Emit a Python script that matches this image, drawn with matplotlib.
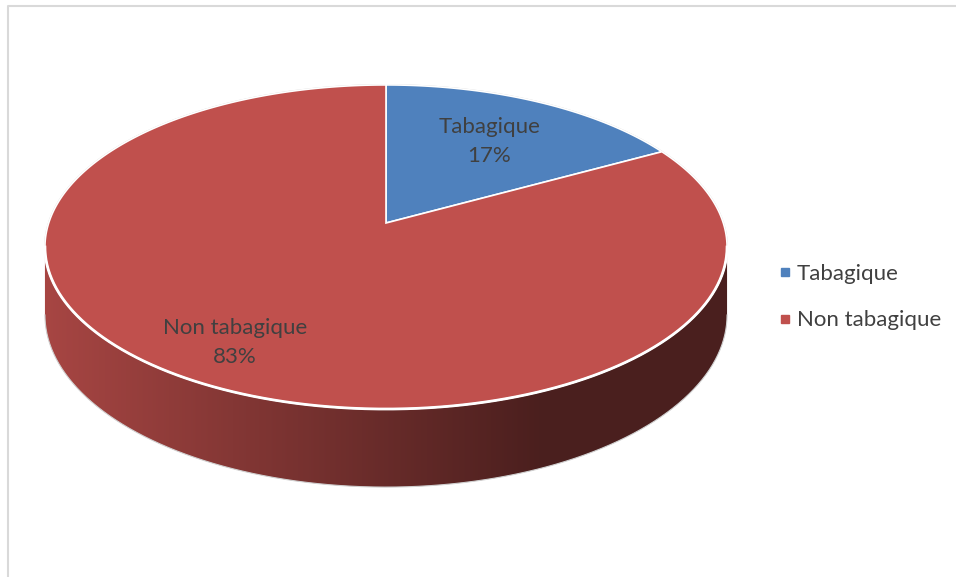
import numpy as np
import matplotlib
matplotlib.use('Agg')
import matplotlib.pyplot as plt
from matplotlib.lines import Line2D
from matplotlib.colors import to_rgb

categories = ['Tabagique', 'Non tabagique']
shares = [17, 83]
slice_colors = ['#4f81bd', '#c0504d']
label_radius = [0.65, 0.79]

# perspective pie geometry (canvas units = pixels)
CX, CY = 386, 223
A, B, K = 337.3, 158.5, 0.148
DEPTH = 66.5
TEXT = '#404040'
FONT = 'Lato'
FSIZE = 16


def project(theta, r=1.0, drop=0.0):
    u = r * np.sin(theta)
    v = -r * np.cos(theta)
    w = 1 - K * v
    return CX + A * u / w, CY + (B * v + drop) / w


def shade(sx):
    half = A / np.sqrt(1 - K ** 2)
    f = 0.87 - 0.48 * ((sx - CX) / half + 1) / 1.45
    return np.clip(f, 0.39, 0.9)


fig = plt.figure(figsize=(9.56, 5.77), dpi=100)
ax = fig.add_axes([0, 0, 1, 1])
ax.axis('off')

# chart frame (left and top edges visible)
ax.plot([8, 8, 956], [577, 6, 6], color='#d9d9d9', lw=1.5, solid_capstyle='butt')

total = sum(shares)
bounds = np.concatenate([[0], np.cumsum(shares) / total * 2 * np.pi])

# visible front wall lies where the rim comes towards the viewer
vis0 = np.arccos(-K)
vis1 = 2 * np.pi - vis0

for i, col in enumerate(slice_colors):
    a, b = max(bounds[i], vis0), min(bounds[i + 1], vis1)
    if a >= b:
        continue
    ts = np.linspace(a, b, 400)
    tx, ty = project(ts)
    bx, by = project(ts, drop=DEPTH)
    wall = plt.Polygon(np.column_stack([np.r_[tx, bx[::-1]], np.r_[ty, by[::-1]]]),
                       closed=True, facecolor='none', edgecolor='none')
    ax.add_patch(wall)
    xs = np.linspace(tx.min() - 2, tx.max() + 2, 700)
    grad = np.array(to_rgb(col))[None, None, :] * shade(xs)[None, :, None]
    img = ax.imshow(grad, extent=(xs[0], xs[-1], by.max() + 2, ty.min() - 2),
                    aspect='auto', interpolation='bilinear', zorder=1)
    img.set_clip_path(wall)
    ax.plot(bx, by, color='#d0d0d0', lw=0.8, zorder=1.5)

# faint outline round the top face
ta = np.linspace(0, 2 * np.pi, 600)
ox, oy = project(ta)
ax.plot(ox, oy, color='#cfcfcf', lw=1.2, zorder=2)

for i, col in enumerate(slice_colors):
    ts = np.linspace(bounds[i], bounds[i + 1], 300)
    px, py = project(ts)
    pts = [(CX, CY)] + list(zip(px, py))
    ax.add_patch(plt.Polygon(pts, closed=True, facecolor=col, edgecolor='white',
                             lw=1.2, joinstyle='miter', zorder=3))

# white rim along the front edge
ts = np.linspace(vis0, vis1, 400)
fx, fy = project(ts)
ax.plot(fx, fy, color='white', lw=2, zorder=4)

for i, name in enumerate(categories):
    mid = (bounds[i] + bounds[i + 1]) / 2
    lx, ly = project(mid, r=label_radius[i])
    ax.text(lx, ly, f'{name}\n{shares[i]}%', ha='center', va='center',
            color=TEXT, fontsize=FSIZE, family=FONT, linespacing=1.55, zorder=5)

ax.set_xlim(0, 956)
ax.set_ylim(577, 0)

handles = [Line2D([], [], marker='s', linestyle='none', markersize=6,
                  markerfacecolor=c, markeredgecolor=c) for c in slice_colors]
fig.legend(handles, categories, loc='center left', bbox_to_anchor=(0.815, 1 - 297 / 577),
           frameon=False, borderpad=0, borderaxespad=0, handlelength=0.5,
           handletextpad=0.3, labelspacing=1.2, labelcolor=TEXT,
           prop={'family': FONT, 'size': FSIZE})

fig.savefig('out.png', dpi=100)
